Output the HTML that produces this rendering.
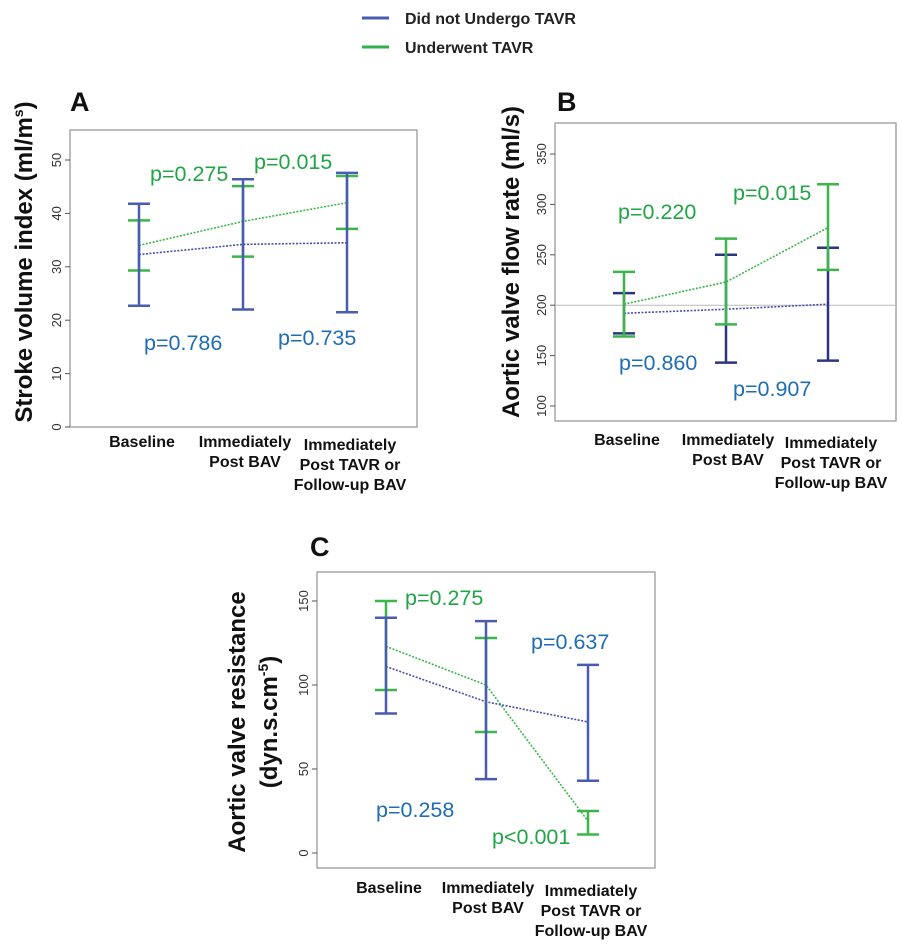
<!DOCTYPE html>
<html><head><meta charset="utf-8"><style>
body{margin:0;background:#fff;}
svg{display:block;font-family:"Liberation Sans",Arial,sans-serif;}
</style></head><body>
<svg id="fig" width="902" height="950" viewBox="0 0 902 950">
<g>
 <g><line x1="362" y1="18" x2="389" y2="18" stroke="#4a5cb0" stroke-width="3"/><text x="405" y="24" font-size="16" font-weight="bold" fill="#222">Did not Undergo TAVR</text></g>
 <g><line x1="362" y1="47" x2="389" y2="47" stroke="#2db34a" stroke-width="3"/><text x="405" y="53" font-size="16" font-weight="bold" fill="#222">Underwent TAVR</text></g>
</g>
</svg>
<script>
const categories=[["Baseline"],["Immediately","Post BAV"],["Immediately","Post TAVR or","Follow-up BAV"]];
// Panel A
const aBlueLow=[22.7,22,21.5], aBlueMean=[32.3,34.2,34.5], aBlueHigh=[41.8,46.4,47.6];
const aGreenLow=[29.3,31.9,37.1], aGreenMean=[34,38.5,42], aGreenHigh=[38.7,45.1,47.0];
const aTicks=[0,10,20,30,40,50];
// Panel B
const bBlueLow=[172,143,145], bBlueMean=[192,196,201], bBlueHigh=[212,250,257];
const bGreenLow=[169,181,235], bGreenMean=[201,223,277], bGreenHigh=[233,266,320];
const bTicks=[100,150,200,250,300,350];
// Panel C
const cBlueLow=[83,44,43], cBlueMean=[111,90,78], cBlueHigh=[140,138,112];
const cGreenLow=[97,72,11], cGreenMean=[123,100,19], cGreenHigh=[150,128,25];
const cTicks=[0,50,100,150];

const NS="http://www.w3.org/2000/svg";
const svg=document.getElementById('fig');
function mk(tag,attrs,parent){const e=document.createElementNS(NS,tag);for(const k in attrs)e.setAttribute(k,attrs[k]);(parent||svg).appendChild(e);return e;}
const BLUE_T="#1f6db4", GREEN_T="#21a546";

function panel(cfg){
 const g=mk('g',{});
 
 
 const y=v=>cfg.y0+(v-cfg.v0)*(cfg.y1-cfg.y0)/(cfg.v1-cfg.v0);
 const box=mk('rect',{x:cfg.bx0,y:cfg.by0,width:cfg.bx1-cfg.bx0,height:cfg.by1-cfg.by0,fill:'none',stroke:'#999','stroke-width':1.3},g);
 
 
 const L=mk('text',{x:cfg.letterX,y:cfg.letterY,'font-size':27,'font-weight':'bold',fill:'#111'},g);L.textContent=cfg.letter;
 
 
 cfg.ticks.forEach(t=>{
  const ty=y(t);
  mk('line',{x1:cfg.bx0-5,x2:cfg.bx0,y1:ty,y2:ty,stroke:'#555','stroke-width':1},g);
  const tx=mk('text',{x:cfg.bx0-9,y:ty,'font-size':13,fill:'#333','text-anchor':'middle',transform:`rotate(-90 ${cfg.bx0-9} ${ty})`},g);
  tx.textContent=t;
  
  
 });
 if(cfg.refLine!==undefined){mk('line',{x1:cfg.bx0,x2:cfg.bx1,y1:y(cfg.refLine),y2:y(cfg.refLine),stroke:'#bbb','stroke-width':1},g);}
 cfg.titles.forEach((t,i)=>{
  const tx=mk('text',{x:t.x,y:cfg.titleY,'font-size':cfg.titleSize,'font-weight':'bold',fill:'#111','text-anchor':'middle',transform:`rotate(-90 ${t.x} ${cfg.titleY})`},g);
  tx.innerHTML=t.html;
  
  
 });
 categories.forEach((lines,i)=>{
  const cx=cfg.xs[i]+(i==2?3:i==1?2:3);
  lines.forEach((s,j)=>{
   const tx=mk('text',{x:cx,y:cfg.catY+(i==2?3:0)+j*20,'font-size':16,'font-weight':'bold',fill:'#111','text-anchor':'middle'},g);
   tx.textContent=s;
   
   
  });
 });
 const series=[
  {name:'no-tavr',lo:cfg.blueLow,mean:cfg.blueMean,hi:cfg.blueHigh,col:cfg.blueCol,mcol:'#4a4fa8'},
  {name:'tavr',lo:cfg.greenLow,mean:cfg.greenMean,hi:cfg.greenHigh,col:'#3cb54a',mcol:'#3cb54a'}];
 const order=cfg.greenOnTop?[0,1]:[1,0];
 order.forEach(si=>{
  const s=series[si];
  const pts=s.mean.map((m,i)=>cfg.xs[i]+','+y(m)).join(' ');
  const pl=mk('polyline',{points:pts,fill:'none',stroke:s.mcol,'stroke-width':1.6,'stroke-dasharray':'2 1.5'},g);
  
  
 });
 order.forEach(si=>{
  const s=series[si];
  s.lo.forEach((lo,i)=>{
   const eg=mk('g',{},g);
   
   
   const x=cfg.xs[i];
   mk('line',{x1:x,x2:x,y1:y(lo),y2:y(s.hi[i]),stroke:s.col,'stroke-width':2.5},eg);
   mk('line',{x1:x-11,x2:x+11,y1:y(lo),y2:y(lo),stroke:s.col,'stroke-width':2.5},eg);
   mk('line',{x1:x-11,x2:x+11,y1:y(s.hi[i]),y2:y(s.hi[i]),stroke:s.col,'stroke-width':2.5},eg);
  });
 });
 cfg.pvals.forEach(p=>{
  const tx=mk('text',{x:p.x,y:p.y,'font-size':21.5,fill:p.c},g);
  tx.textContent=p.t;
  
  
 });
}

panel({name:'panel-a-stroke-volume',letter:'A',letterX:70,letterY:111,bx0:70,bx1:417,by0:130,by1:427,
 v0:0,v1:50,y0:427,y1:160,ticks:aTicks,xs:[139,243,347],catY:447,
 titles:[{x:32,html:'Stroke volume index (ml/m<tspan font-size="14" dy="-9">s</tspan><tspan dy="9">)</tspan>'}],titleY:262,titleSize:24,
 blueLow:aBlueLow,blueMean:aBlueMean,blueHigh:aBlueHigh,greenLow:aGreenLow,greenMean:aGreenMean,greenHigh:aGreenHigh,
 blueCol:'#4a5cb0',greenOnTop:false,
 pvals:[{t:'p=0.275',x:150,y:181,c:GREEN_T},{t:'p=0.015',x:254,y:169,c:GREEN_T},{t:'p=0.786',x:144,y:350,c:BLUE_T},{t:'p=0.735',x:278,y:345,c:BLUE_T}]});

panel({name:'panel-b-flow-rate',letter:'B',letterX:557,letterY:111,bx0:555,bx1:896,by0:123,by1:421,
 v0:100,v1:350,y0:406,y1:154,ticks:bTicks,refLine:200,xs:[624,726,828],catY:445,
 titles:[{x:519,html:'Aortic valve flow rate (ml/s)'}],titleY:262,titleSize:24,
 blueLow:bBlueLow,blueMean:bBlueMean,blueHigh:bBlueHigh,greenLow:bGreenLow,greenMean:bGreenMean,greenHigh:bGreenHigh,
 blueCol:'#2e3580',greenOnTop:true,
 pvals:[{t:'p=0.220',x:618,y:219,c:GREEN_T},{t:'p=0.015',x:733,y:200,c:GREEN_T},{t:'p=0.860',x:619,y:370,c:BLUE_T},{t:'p=0.907',x:733,y:396,c:BLUE_T}]});

panel({name:'panel-c-resistance',letter:'C',letterX:310,letterY:556,bx0:317,bx1:655,by0:572,by1:868,
 v0:0,v1:150,y0:853,y1:601,ticks:cTicks,xs:[386,486,588],catY:893,
 titles:[{x:245,html:'Aortic valve resistance'},{x:277,html:'(dyn.s.cm<tspan font-size="14" dy="-9">-5</tspan><tspan dy="9">)</tspan>'}],titleY:722,titleSize:24,
 blueLow:cBlueLow,blueMean:cBlueMean,blueHigh:cBlueHigh,greenLow:cGreenLow,greenMean:cGreenMean,greenHigh:cGreenHigh,
 blueCol:'#4a5cb0',greenOnTop:false,
 pvals:[{t:'p=0.275',x:405,y:605,c:GREEN_T},{t:'p=0.637',x:531,y:649,c:BLUE_T},{t:'p=0.258',x:376,y:817,c:BLUE_T},{t:'p<0.001',x:492,y:844,c:GREEN_T}]});
</script>
</body></html>
